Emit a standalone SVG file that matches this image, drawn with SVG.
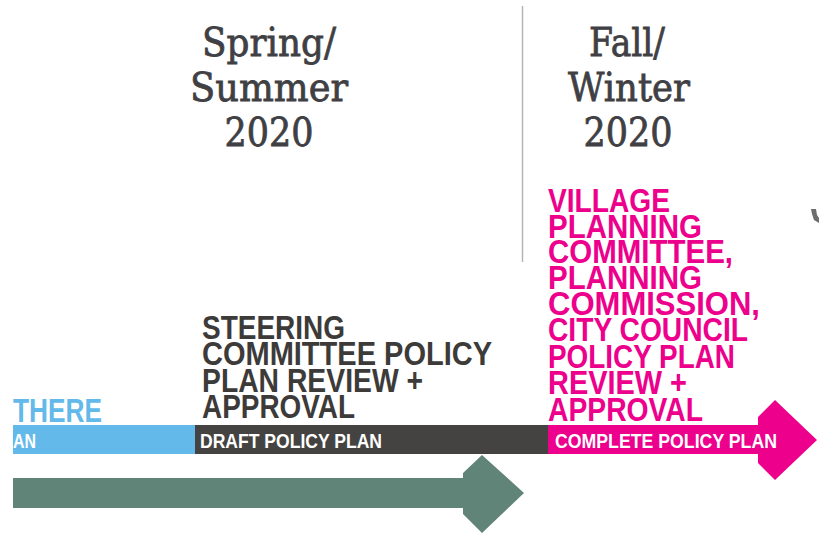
<svg xmlns="http://www.w3.org/2000/svg" width="819" height="540" viewBox="0 0 819 540">
  <style>
    .hdr { font-family: "DejaVu Serif", "Liberation Serif", serif; font-size: 39px; fill: #404044; stroke: #404044; stroke-width: 0.8px; text-anchor: middle; }
    .big { font-family: "Liberation Sans Narrow", "Liberation Sans", Arial, sans-serif; font-weight: bold; font-size: 33px; }
    .bar { font-family: "Liberation Sans Narrow", "Liberation Sans", Arial, sans-serif; font-weight: bold; font-size: 21px; fill: #ffffff; }
    .dark { fill: #3d3b39; }
    .pink { fill: #ec008c; }
    .blue { fill: #63b9e9; }
  </style>
  <rect width="819" height="540" fill="#ffffff"/>

  <g id="divider">
    <line x1="522.5" y1="6" x2="522.5" y2="262" stroke="#b4b4b4" stroke-width="1.5"/>
  </g>

  <g id="header-spring">
    <text class="hdr" x="269" y="56" textLength="134" lengthAdjust="spacingAndGlyphs">Spring/</text>
    <text class="hdr" x="269" y="101" textLength="158" lengthAdjust="spacingAndGlyphs">Summer</text>
    <text class="hdr" x="269" y="146" textLength="89" lengthAdjust="spacingAndGlyphs">2020</text>
  </g>

  <g id="header-fall">
    <text class="hdr" x="627" y="56" textLength="76" lengthAdjust="spacingAndGlyphs">Fall/</text>
    <text class="hdr" x="629" y="101" textLength="122" lengthAdjust="spacingAndGlyphs">Winter</text>
    <text class="hdr" x="628" y="146" textLength="89" lengthAdjust="spacingAndGlyphs">2020</text>
  </g>

  <g id="label-there">
    <text class="big blue" x="13" y="422" textLength="89" lengthAdjust="spacingAndGlyphs">THERE</text>
  </g>

  <g id="label-steering">
    <text class="big dark" x="202" y="339" textLength="143" lengthAdjust="spacingAndGlyphs">STEERING</text>
    <text class="big dark" x="202" y="365" textLength="290" lengthAdjust="spacingAndGlyphs">COMMITTEE POLICY</text>
    <text class="big dark" x="202" y="392" textLength="221" lengthAdjust="spacingAndGlyphs">PLAN REVIEW +</text>
    <text class="big dark" x="202" y="418" textLength="153" lengthAdjust="spacingAndGlyphs">APPROVAL</text>
  </g>

  <g id="label-village">
    <text class="big pink" x="548" y="212" textLength="122" lengthAdjust="spacingAndGlyphs">VILLAGE</text>
    <text class="big pink" x="548" y="238" textLength="154" lengthAdjust="spacingAndGlyphs">PLANNING</text>
    <text class="big pink" x="548" y="263" textLength="185" lengthAdjust="spacingAndGlyphs">COMMITTEE,</text>
    <text class="big pink" x="548" y="289" textLength="154" lengthAdjust="spacingAndGlyphs">PLANNING</text>
    <text class="big pink" x="548" y="315" textLength="212" lengthAdjust="spacingAndGlyphs">COMMISSION,</text>
    <text class="big pink" x="548" y="341" textLength="200" lengthAdjust="spacingAndGlyphs">CITY COUNCIL</text>
    <text class="big pink" x="548" y="368" textLength="187" lengthAdjust="spacingAndGlyphs">POLICY PLAN</text>
    <text class="big pink" x="548" y="394" textLength="139" lengthAdjust="spacingAndGlyphs">REVIEW +</text>
    <text class="big pink" x="548" y="421" textLength="155" lengthAdjust="spacingAndGlyphs">APPROVAL</text>
  </g>

  <g id="connectors">
    <g id="bar-plan">
      <rect x="13" y="425" width="182" height="29" fill="#63b9e9"/>
      <text class="bar" x="13" y="448" textLength="23" lengthAdjust="spacingAndGlyphs">AN</text>
    </g>
    <g id="bar-draft">
      <rect x="195" y="425" width="353" height="29" fill="#444341"/>
      <text class="bar" x="200" y="448" textLength="182" lengthAdjust="spacingAndGlyphs">DRAFT POLICY PLAN</text>
    </g>
    <g id="bar-complete">
      <polygon points="548,425 758,425 758,417 775,400 817,440 775,480 758,463 758,454 548,454" fill="#ec008c"/>
      <text class="bar" x="555" y="448" textLength="222" lengthAdjust="spacingAndGlyphs">COMPLETE POLICY PLAN</text>
    </g>
    <g id="arrow-green">
      <polygon points="13,478 463,478 463,473 482,455 524,493 482,533 463,514 463,508 13,508" fill="#618478"/>
    </g>
  </g>

  <g id="edge-fragment">
    <polygon points="811,209 816,209 817,215 819,218 819,223 814,220 812,214" fill="#6e6e6e"/>
  </g>
</svg>
